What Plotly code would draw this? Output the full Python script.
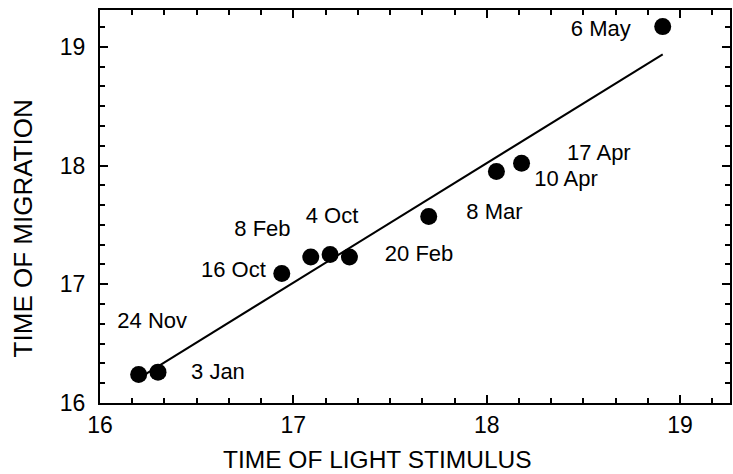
import numpy as np
import plotly.graph_objects as go

# Data: time of light stimulus (h) vs time of migration (h)
dates = ["24 Nov", "3 Jan", "16 Oct", "8 Feb", "4 Oct", "20 Feb",
         "8 Mar", "10 Apr", "17 Apr", "6 May"]
light_time = [16.20, 16.30, 16.94, 17.09, 17.19, 17.29, 17.70, 18.05, 18.18, 18.91]
migration_time = [16.24, 16.26, 17.09, 17.23, 17.25, 17.23, 17.57, 17.95, 18.02, 19.17]

# label anchor positions (data coordinates)
label_x = [16.27, 16.61, 16.69, 16.84, 17.20, 17.65, 18.04, 18.41, 18.58, 18.59]
label_y = [16.68, 16.245, 17.105, 17.45, 17.565, 17.24, 17.60, 17.875, 18.095, 19.14]

x_ticks = [16, 17, 18, 19]
y_ticks = [16, 17, 18, 19]

FONT = "Liberation Sans"

slope, intercept = np.polyfit(light_time, migration_time, 1)
fit_x = np.array([min(light_time), max(light_time)])
fit_y = slope * fit_x + intercept

fig = go.Figure()
fig.add_trace(go.Scatter(x=fit_x, y=fit_y, mode="lines",
                         line=dict(color="black", width=2), hoverinfo="skip"))
fig.add_trace(go.Scatter(x=light_time, y=migration_time, mode="markers",
                         marker=dict(color="black", size=17, line=dict(width=0))))
fig.add_trace(go.Scatter(x=label_x, y=label_y, mode="text", text=dates,
                         textposition="middle center",
                         textfont=dict(family=FONT, size=22, color="black")))

axis_common = dict(
    showgrid=False, zeroline=False, showline=True, linecolor="black", linewidth=2,
    mirror="allticks", ticks="inside", ticklen=8, tickwidth=1.6, tickcolor="black",
    tickfont=dict(family=FONT, size=23, color="black"),
    minor=dict(ticks="inside", ticklen=5, tickwidth=1.5, tickcolor="black",
               tick0=16, dtick=1/6),
    tickmode="array",
)

fig.update_xaxes(range=[16, 19.258], tickvals=x_ticks, ticktext=[str(v) for v in x_ticks],
                 ticklabelstandoff=0, **axis_common)
fig.update_yaxes(range=[16, 19.31], tickvals=y_ticks, ticktext=[str(v) for v in y_ticks],
                 ticklabelstandoff=8, **axis_common)

fig.add_annotation(text="TIME OF LIGHT STIMULUS", xref="paper", yref="paper",
                   x=0.44, y=-0.1425, xanchor="center", yanchor="middle", showarrow=False,
                   font=dict(family=FONT, size=24.5, color="black"))
fig.add_annotation(text="TIME OF MIGRATION", xref="paper", yref="paper",
                   x=-0.1218, y=0.445, xanchor="center", yanchor="middle", showarrow=False,
                   textangle=-90, font=dict(family=FONT, size=26, color="black"))

fig.update_layout(
    width=733, height=474, showlegend=False,
    margin=dict(l=100, r=1, t=10, b=71),
    plot_bgcolor="white", paper_bgcolor="white",
)

fig.write_html("out.html")
